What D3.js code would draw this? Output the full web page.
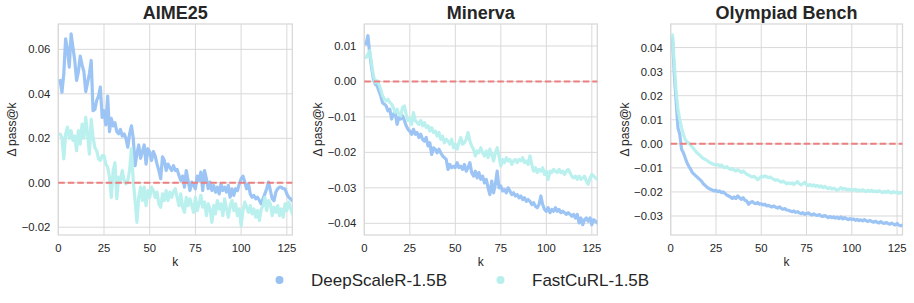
<!DOCTYPE html>
<html>
<head>
<meta charset="utf-8">
<script src="https://cdn.jsdelivr.net/npm/d3@7"></script>
<style>
  body { margin: 0; background: #fff; }
  svg { display: block; font-family: "Liberation Sans", Arial, sans-serif; }
</style>
</head>
<body>
<svg id="chart"></svg>
<script>
// data (k = 1..128)
const titles = ["AIME25", "Minerva", "Olympiad Bench"];
const seriesNames = ["DeepScaleR-1.5B", "FastCuRL-1.5B"];
const xTicks = [0, 25, 50, 75, 100, 125];

const aimeDeep = [
  0.046, 0.0407, 0.049, 0.0647, 0.060, 0.052, 0.067, 0.061, 0.055, 0.046,
  0.050, 0.057, 0.053, 0.050, 0.041, 0.045, 0.049, 0.055, 0.0324, 0.033,
  0.037, 0.039, 0.043, 0.0294, 0.0324, 0.026, 0.039, 0.023, 0.029, 0.0256,
  0.027, 0.023, 0.022, 0.024, 0.021, 0.022, 0.020, 0.016, 0.022, 0.0256,
  0.020, 0.0077, 0.013, 0.017, 0.011, 0.014, 0.017, 0.0084, 0.0153, 0.0137,
  0.010, 0.014, 0.012, 0.0084, 0.0055, 0.0018, 0.0117, 0.010, 0.0055, 0.0084,
  0.007, 0.0055, 0.0077, 0.0055, 0.006, 0.0033, 0.001, 0.003, -0.002, 0.0055,
  0.001, -0.0035, 0.0003, -0.0012, -0.0027, 0.003, 0.001, 0.0048, -0.0035, 0.0055,
  0.0018, -0.0027, 0.0003, -0.0035, -0.0012, -0.0042, -0.002, -0.005, -0.0005, -0.0035,
  -0.002, -0.0042, -0.0012, -0.0065, -0.0027, -0.0057, -0.0027, -0.0035, -0.0005, 0.0018,
  0.003, 0.0003, -0.0027, -0.0005, -0.005, -0.0065, -0.0057, -0.0072, -0.0065, -0.008,
  -0.0095, -0.0072, -0.005, -0.0027, 0.0003, -0.0035, -0.0072, -0.008, -0.0042, -0.0027,
  -0.002, -0.002, -0.0027, -0.0027, -0.005, -0.0065, -0.0072, -0.008
];
const aimeFast = [
  0.0219, 0.0204, 0.0107, 0.022, 0.025, 0.020, 0.0234, 0.019, 0.021, 0.0144,
  0.0234, 0.0174, 0.0264, 0.020, 0.0294, 0.022, 0.0129, 0.0286, 0.0204, 0.0159,
  0.0144, 0.0107, 0.010, 0.0122, 0.0122, 0.0084, 0.007, 0.0025, -0.0066, 0.0055,
  0.009, -0.0072, 0.0025, 0.001, 0.0055, 0.001, -0.0005, 0.001, 0.0055, 0.0152,
  0.001, -0.008, -0.0178, -0.0066, -0.002, -0.008, -0.002, -0.0103, -0.0035, -0.0066,
  -0.002, -0.0035, -0.0066, -0.0042, -0.0095, -0.011, -0.005, -0.008, -0.0035, -0.008,
  -0.0042, -0.0066, -0.0042, -0.0027, -0.0066, -0.0103, -0.005, -0.011, -0.0133, -0.0066,
  -0.0103, -0.0072, -0.0103, -0.0133, -0.0066, -0.0125, -0.0095, -0.0057, -0.011, -0.0087,
  -0.0148, -0.0095, -0.0118, -0.0178, -0.0103, -0.014, -0.008, -0.0118, -0.0095, -0.0148,
  -0.0072, -0.0118, -0.0155, -0.0103, -0.008, -0.0125, -0.0095, -0.0148, -0.0118, -0.0193,
  -0.0125, -0.0087, -0.011, -0.0133, -0.0103, -0.014, -0.0118, -0.0155, -0.0125, -0.017,
  -0.0118, -0.0103, -0.0066, -0.0125, -0.008, -0.0095, -0.0148, -0.011, -0.0133, -0.0103,
  -0.0148, -0.0118, -0.0155, -0.0095, -0.0125, -0.0087, -0.011, -0.014
];

const minervaDeep = [
  0.0106, 0.0129, 0.0077, 0.004, 0.0007, -0.0008, -0.0012, -0.0026, -0.004, -0.006,
  -0.0064, -0.0069, -0.0083, -0.0078, -0.0106, -0.0092, -0.0088, -0.0121, -0.0102, -0.0106,
  -0.0097, -0.011, -0.0125, -0.0135, -0.014, -0.0149, -0.0135, -0.0149, -0.0144, -0.0158,
  -0.0149, -0.0163, -0.0168, -0.0158, -0.0182, -0.0173, -0.0206, -0.0187, -0.0191, -0.0201,
  -0.0191, -0.0201, -0.021, -0.0215, -0.022, -0.0248, -0.0234, -0.0243, -0.0239, -0.0243,
  -0.0229, -0.0243, -0.0239, -0.0248, -0.0234, -0.0253, -0.0243, -0.0229, -0.0257, -0.0267,
  -0.0253, -0.0272, -0.0257, -0.0276, -0.0267, -0.0286, -0.0276, -0.030, -0.0319, -0.0281,
  -0.0314, -0.029, -0.0253, -0.030, -0.0295, -0.0309, -0.0305, -0.0314, -0.030, -0.0309,
  -0.0319, -0.0314, -0.0323, -0.0319, -0.0328, -0.0323, -0.0333, -0.0328, -0.0338, -0.0333,
  -0.0338, -0.0347, -0.0342, -0.0352, -0.0356, -0.0347, -0.0323, -0.0347, -0.0361, -0.0366,
  -0.0356, -0.037, -0.0361, -0.0366, -0.0356, -0.0366, -0.0361, -0.037, -0.0366, -0.037,
  -0.0375, -0.037, -0.0375, -0.038, -0.0375, -0.0385, -0.0375, -0.0399, -0.0385, -0.0404,
  -0.039, -0.0385, -0.0394, -0.0385, -0.0404, -0.039, -0.0394, -0.0399
];
const minervaFast = [
  0.0068, 0.0077, 0.0087, 0.0049, 0.0016, -0.0003, 0.0002, -0.0008, -0.0022, -0.004,
  -0.005, -0.0055, -0.005, -0.0059, -0.0064, -0.0074, -0.0088, -0.0078, -0.0092, -0.0097,
  -0.0074, -0.0069, -0.0092, -0.011, -0.0106, -0.0121, -0.0088, -0.011, -0.0116, -0.0121,
  -0.011, -0.0125, -0.0116, -0.013, -0.0125, -0.014, -0.013, -0.0144, -0.014, -0.0154,
  -0.0144, -0.0163, -0.0154, -0.0173, -0.0163, -0.0168, -0.0177, -0.0163, -0.0187, -0.0177,
  -0.0191, -0.0173, -0.0158, -0.0177, -0.0173, -0.0163, -0.0144, -0.0168, -0.0182, -0.0191,
  -0.021, -0.0196, -0.0201, -0.0187, -0.0201, -0.021, -0.0196, -0.0215, -0.0191, -0.0206,
  -0.0224, -0.0201, -0.0187, -0.021, -0.0239, -0.022, -0.0229, -0.0215, -0.0224, -0.022,
  -0.0234, -0.0224, -0.022, -0.0229, -0.022, -0.0224, -0.0215, -0.0229, -0.0224, -0.0234,
  -0.021, -0.0234, -0.0253, -0.0243, -0.0257, -0.0248, -0.0253, -0.0243, -0.0262, -0.0253,
  -0.0276, -0.0253, -0.0257, -0.0248, -0.0253, -0.0257, -0.0248, -0.0257, -0.0253, -0.0262,
  -0.0253, -0.0248, -0.0257, -0.0267, -0.0272, -0.0267, -0.0276, -0.0267, -0.0276, -0.0272,
  -0.0267, -0.0281, -0.029, -0.0272, -0.0262, -0.0267, -0.0272, -0.0276
];

const olympDeep = [
  0.044, 0.0287, 0.0177, 0.0066, 0.0039, -0.0023, -0.0037, -0.0058, -0.0079, -0.0093,
  -0.0106, -0.012, -0.0127, -0.0134, -0.0141, -0.0148, -0.0155, -0.0166, -0.0173, -0.018,
  -0.0185, -0.0189, -0.0192, -0.0196, -0.0193, -0.0199, -0.0196, -0.0203, -0.020, -0.0207,
  -0.0213, -0.0217, -0.0221, -0.0227, -0.0221, -0.0227, -0.0217, -0.0224, -0.0231, -0.0224,
  -0.0235, -0.0238, -0.0251, -0.0244, -0.024, -0.0246, -0.0249, -0.0244, -0.0251, -0.0249,
  -0.0254, -0.0251, -0.0258, -0.0256, -0.026, -0.0262, -0.0258, -0.0264, -0.0267, -0.0262,
  -0.0268, -0.0272, -0.0269, -0.0275, -0.0276, -0.0279, -0.0282, -0.0279, -0.0285, -0.0282,
  -0.0287, -0.029, -0.0286, -0.0293, -0.029, -0.0287, -0.0293, -0.0296, -0.0291, -0.0296,
  -0.0298, -0.0294, -0.030, -0.0302, -0.0298, -0.0302, -0.0307, -0.0302, -0.0307, -0.0304,
  -0.0309, -0.0305, -0.0311, -0.0304, -0.0312, -0.0307, -0.0311, -0.0315, -0.0311, -0.0315,
  -0.0312, -0.0318, -0.0314, -0.0319, -0.0316, -0.032, -0.0315, -0.032, -0.0323, -0.0318,
  -0.0323, -0.0326, -0.0322, -0.0326, -0.0329, -0.0323, -0.0329, -0.0331, -0.0327, -0.0331,
  -0.0334, -0.033, -0.0334, -0.0337, -0.0331, -0.0338, -0.0341, -0.0338
];
const olympFast = [
  0.0453, 0.0329, 0.0218, 0.0142, 0.0101, 0.0066, 0.0039, 0.0018, 0.0008, 0.0004,
  -0.0006, -0.0014, -0.0023, -0.0033, -0.0041, -0.0047, -0.0055, -0.0061, -0.0065, -0.0069,
  -0.0075, -0.0079, -0.0083, -0.0086, -0.0088, -0.0086, -0.0093, -0.0088, -0.0097, -0.0099,
  -0.0095, -0.0102, -0.0106, -0.0102, -0.0109, -0.0113, -0.0108, -0.0113, -0.0119, -0.0113,
  -0.012, -0.0127, -0.013, -0.0134, -0.0138, -0.0135, -0.0141, -0.0149, -0.0144, -0.0135,
  -0.0138, -0.0133, -0.0137, -0.0141, -0.0138, -0.0144, -0.0148, -0.0152, -0.0149, -0.0155,
  -0.0159, -0.0155, -0.016, -0.0166, -0.0162, -0.0166, -0.0162, -0.0169, -0.0163, -0.0157,
  -0.0166, -0.0171, -0.0166, -0.016, -0.0169, -0.0174, -0.0169, -0.0175, -0.0171, -0.0177,
  -0.0173, -0.018, -0.0175, -0.0182, -0.0177, -0.0182, -0.0186, -0.0182, -0.0188, -0.0184,
  -0.0189, -0.0193, -0.0188, -0.0182, -0.0189, -0.0185, -0.0191, -0.0188, -0.0193, -0.0189,
  -0.0193, -0.0189, -0.0196, -0.0192, -0.0196, -0.0191, -0.0195, -0.0199, -0.0193, -0.0198,
  -0.0193, -0.0199, -0.0196, -0.02, -0.0195, -0.0199, -0.0203, -0.0198, -0.0202, -0.0196,
  -0.0202, -0.0204, -0.0199, -0.0203, -0.02, -0.0206, -0.0203, -0.0204
];

const yTicksAime = [-0.02, 0, 0.02, 0.04, 0.06];
const yTicksMinerva = [-0.04, -0.03, -0.02, -0.01, 0, 0.01];
const yTicksOlymp = [-0.03, -0.02, -0.01, 0, 0.01, 0.02, 0.03, 0.04];

const colors = ["#97c1f3", "#b6efec"];

// Grundinställningar
const W = 914, H = 303;
const svg = d3.select("#chart").attr("width", W).attr("height", H);
svg.append("rect").attr("width", W).attr("height", H).attr("fill", "#fff");

const panels = [
  { title: titles[0], left: 58.3, right: 292.3, series: [aimeDeep, aimeFast], yDomain: [-0.0235, 0.0714], yTicks: yTicksAime },
  { title: titles[1], left: 364.3, right: 597.3, series: [minervaDeep, minervaFast], yDomain: [-0.0433, 0.0162], yTicks: yTicksMinerva },
  { title: titles[2], left: 670.7, right: 902.5, series: [olympDeep, olympFast], yDomain: [-0.0379, 0.0498], yTicks: yTicksOlymp }
];
const plotTop = 24, plotBottom = 235;
const fmt = d3.format(".2f");
const gridColor = "#d9d9d9";
const textColor = "#262626";

panels.forEach(p => {
  const x = d3.scaleLinear().domain([0, 128]).range([p.left, p.right]);
  const y = d3.scaleLinear().domain(p.yDomain).range([plotBottom, plotTop]);
  const g = svg.append("g");

  // grid
  g.selectAll(".gx").data(xTicks).enter().append("line")
    .attr("x1", d => x(d)).attr("x2", d => x(d))
    .attr("y1", plotTop).attr("y2", plotBottom)
    .attr("stroke", gridColor).attr("stroke-width", 1);
  g.selectAll(".gy").data(p.yTicks).enter().append("line")
    .attr("x1", p.left).attr("x2", p.right)
    .attr("y1", d => y(d)).attr("y2", d => y(d))
    .attr("stroke", gridColor).attr("stroke-width", 1);

  // frame
  g.append("rect")
    .attr("x", p.left).attr("y", plotTop)
    .attr("width", p.right - p.left).attr("height", plotBottom - plotTop)
    .attr("fill", "none").attr("stroke", gridColor).attr("stroke-width", 1.3);

  // lines
  const clipId = "clip" + p.title.replace(/\s/g, "");
  svg.append("clipPath").attr("id", clipId).append("rect")
    .attr("x", p.left).attr("y", plotTop).attr("width", p.right - p.left).attr("height", plotBottom - plotTop);
  const line = d3.line().x((d, i) => x(i + 1)).y(d => y(d));
  p.series.forEach((s, si) => {
    g.append("path").datum(s)
      .attr("d", line)
      .attr("fill", "none")
      .attr("stroke", colors[si])
      .attr("stroke-width", 3.2)
      .attr("stroke-linejoin", "round")
      .attr("stroke-linecap", "round")
      .attr("opacity", 0.95)
      .attr("clip-path", `url(#${clipId})`);
  });

  // zero line
  g.append("line")
    .attr("x1", p.left).attr("x2", p.right)
    .attr("y1", y(0)).attr("y2", y(0))
    .attr("stroke", "#ec7f7f").attr("stroke-width", 1.9)
    .attr("stroke-dasharray", "6.5,3");

  // tick labels
  g.selectAll(".tx").data(xTicks).enter().append("text")
    .attr("x", d => x(d)).attr("y", plotBottom + 17)
    .attr("text-anchor", "middle")
    .attr("font-size", 11.3).attr("fill", textColor)
    .text(d => d);
  g.selectAll(".ty").data(p.yTicks).enter().append("text")
    .attr("x", p.left - 8).attr("y", d => y(d) + 4)
    .attr("text-anchor", "end")
    .attr("font-size", 11.3).attr("fill", textColor)
    .text(d => fmt(d));

  // axis labels + title
  g.append("text")
    .attr("x", (p.left + p.right) / 2).attr("y", 266)
    .attr("text-anchor", "middle").attr("font-size", 12).attr("fill", textColor)
    .text("k");
  g.append("text")
    .attr("transform", `translate(${p.left - 42},${(plotTop + plotBottom) / 2}) rotate(-90)`)
    .attr("text-anchor", "middle").attr("font-size", 12).attr("fill", textColor)
    .text("Δ pass@k");
  g.append("text")
    .attr("x", (p.left + p.right) / 2).attr("y", 19)
    .attr("text-anchor", "middle").attr("font-size", 18).attr("font-weight", "bold")
    .attr("fill", textColor)
    .text(p.title);
});

// legend
const legendX = [279.5, 500.5];
seriesNames.forEach((name, i) => {
  svg.append("circle").attr("cx", legendX[i]).attr("cy", 280).attr("r", 4)
    .attr("fill", colors[i]);
  svg.append("text")
    .attr("x", legendX[i] + 31.5).attr("y", 286)
    .attr("font-size", 17).attr("fill", textColor)
    .text(name);
});
</script>
</body>
</html>
